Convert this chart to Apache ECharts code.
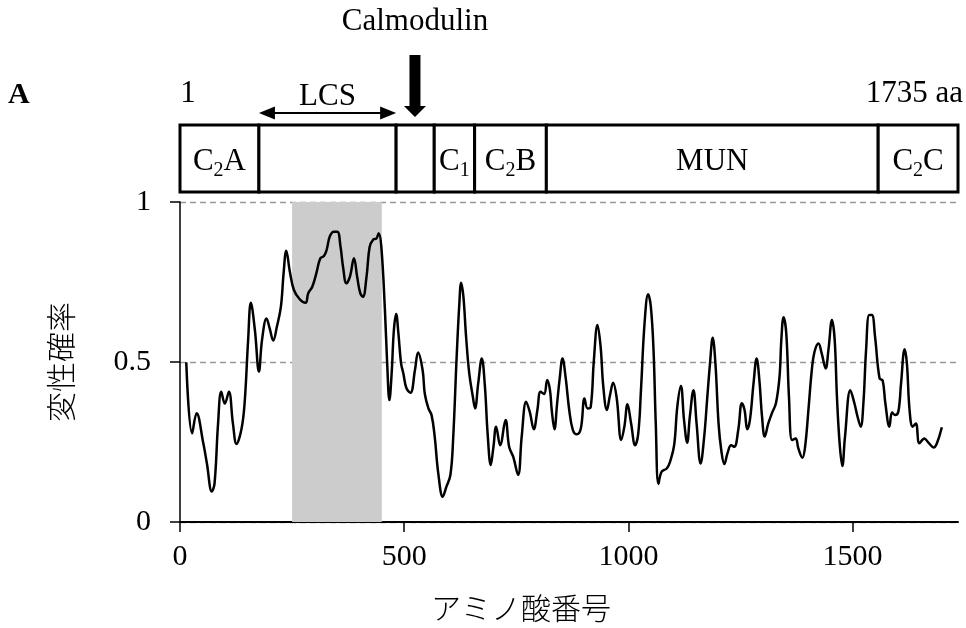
<!DOCTYPE html>
<html>
<head>
<meta charset="utf-8">
<script src="https://cdn.jsdelivr.net/npm/echarts@6/dist/echarts.min.js"></script>
<style>
  html, body { margin: 0; padding: 0; background: #fff; }
  #chart { width: 966px; height: 628px; }
</style>
</head>
<body>
<div id="chart"></div>
<script>
// Disorder probability along the protein sequence (residue number -> probability)
const residue = [
  14, 27, 37, 52, 60, 71, 77, 85, 92, 100, 109, 118, 126, 137, 144, 152, 158, 167, 176, 183,
  193, 200, 208, 216, 225, 231, 237, 245, 254, 267, 280, 286, 295, 304, 313, 321, 327, 334, 343, 351,
  358, 364, 371, 379, 388, 395, 402, 408, 416, 423, 431, 438, 443, 449, 457, 462, 467, 472, 477, 482,
  487, 493, 498, 505, 514, 524, 531, 541, 546, 554, 561, 568, 576, 586, 594, 603, 609, 617, 623, 627,
  632, 638, 645, 653, 658, 665, 673, 680, 686, 693, 699, 705, 714, 726, 734, 743, 754, 762, 772, 780,
  789, 797, 804, 812, 819, 825, 829, 835, 841, 847, 853, 860, 868, 876, 885, 894, 902, 909, 916, 923,
  931, 938, 944, 952, 959, 966, 974, 984, 991, 998, 1006, 1015, 1022, 1028, 1036, 1044, 1050, 1056, 1061, 1067,
  1074, 1086, 1093, 1102, 1109, 1117, 1124, 1131, 1137, 1145, 1152, 1161, 1169, 1176, 1182, 1188, 1194, 1201, 1207, 1214,
  1221, 1229, 1236, 1245, 1253, 1259, 1265, 1271, 1279, 1286, 1292, 1298, 1304, 1312, 1320, 1329, 1337, 1341, 1346, 1352,
  1358, 1365, 1373, 1379, 1388, 1394, 1402, 1409, 1415, 1424, 1431, 1440, 1446, 1454, 1460, 1465, 1471, 1477, 1483, 1495,
  1504, 1511, 1518, 1524, 1530, 1537, 1543, 1550, 1560, 1567, 1573, 1582, 1588, 1595, 1602, 1608, 1616, 1621, 1627, 1634,
  1641, 1649, 1660, 1669, 1681, 1688, 1699
];
const disorder = [
  0.499, 0.277, 0.340, 0.246, 0.183, 0.095, 0.120, 0.310, 0.407, 0.370, 0.407, 0.308, 0.244, 0.290, 0.370, 0.570, 0.685, 0.600, 0.470, 0.570,
  0.636, 0.605, 0.567, 0.610, 0.673, 0.777, 0.848, 0.782, 0.725, 0.696, 0.685, 0.715, 0.735, 0.777, 0.824, 0.831, 0.850, 0.892, 0.907, 0.907,
  0.860, 0.793, 0.746, 0.767, 0.824, 0.767, 0.715, 0.704, 0.767, 0.860, 0.883, 0.886, 0.902, 0.860, 0.662, 0.496, 0.381, 0.465, 0.600, 0.650,
  0.590, 0.496, 0.465, 0.418, 0.404, 0.475, 0.530, 0.475, 0.400, 0.355, 0.334, 0.267, 0.152, 0.079, 0.110, 0.147, 0.256, 0.517, 0.683, 0.748,
  0.704, 0.579, 0.465, 0.392, 0.355, 0.433, 0.511, 0.423, 0.277, 0.178, 0.235, 0.298, 0.240, 0.319, 0.235, 0.204, 0.147, 0.267, 0.376, 0.344,
  0.290, 0.350, 0.407, 0.400, 0.444, 0.413, 0.350, 0.290, 0.371, 0.452, 0.511, 0.452, 0.350, 0.288, 0.274, 0.293, 0.386, 0.355, 0.360, 0.506,
  0.616, 0.548, 0.423, 0.350, 0.397, 0.435, 0.386, 0.256, 0.298, 0.368, 0.308, 0.240, 0.277, 0.412, 0.621, 0.712, 0.673, 0.537, 0.308, 0.119,
  0.157, 0.168, 0.189, 0.240, 0.360, 0.425, 0.319, 0.248, 0.329, 0.412, 0.308, 0.183, 0.267, 0.392, 0.496, 0.576, 0.496, 0.308, 0.225, 0.181,
  0.215, 0.240, 0.235, 0.288, 0.371, 0.350, 0.290, 0.319, 0.433, 0.511, 0.444, 0.329, 0.267, 0.308, 0.340, 0.371, 0.454, 0.569, 0.640, 0.590,
  0.392, 0.256, 0.261, 0.230, 0.201, 0.235, 0.360, 0.475, 0.532, 0.558, 0.527, 0.480, 0.537, 0.631, 0.569, 0.392, 0.246, 0.175, 0.267, 0.412,
  0.371, 0.329, 0.298, 0.371, 0.537, 0.647, 0.647, 0.579, 0.449, 0.442, 0.371, 0.298, 0.342, 0.334, 0.345, 0.433, 0.540, 0.496, 0.350, 0.298,
  0.308, 0.246, 0.261, 0.248, 0.233, 0.246, 0.296
];

// Axis ticks
const xTickStep = 500;
const yTickStep = 0.5;
const proteinLength = 1735;

// Domain architecture of the protein
const domainStart = [0, 176, 482, 567, 657, 817, 1557];
const domainEnd   = [176, 482, 567, 657, 817, 1557, 1735];
const domainNames = ['C2A', '', '', 'C1', 'C2B', 'MUN', 'C2C'];

// Annotated regions
const lcsRange = [176, 482];
const shadedRange = [250, 450];
const calmodulinSite = 524;

const SERIF = "'Liberation Serif', 'Times New Roman', serif";
const CJK = "'Noto Sans CJK JP', sans-serif";

// "C2A" -> C with subscript 2, then A
function richName(s) {
  const m = /^C(\d)(.*)$/.exec(s);
  if (!m) return s ? '{n|' + s + '}' : '';
  return '{n|C}{s|' + m[1] + '}' + (m[2] ? '{n|' + m[2] + '}' : '');
}
const domainRich = {
  n: { fontFamily: SERIF, fontSize: 31, lineHeight: 38, verticalAlign: 'middle', fill: '#000' },
  s: { fontFamily: SERIF, fontSize: 20, lineHeight: 20, verticalAlign: 'bottom', fill: '#000' }
};

const chart = echarts.init(document.getElementById('chart'), null, { renderer: 'canvas' });

const option = {
  animation: false,
  backgroundColor: '#fff',
  grid: [
    { left: 180, right: 8, top: 202, bottom: 106, containLabel: false },
    { left: 180, right: 8, top: 125, bottom: 436, containLabel: false }
  ],
  xAxis: [
    {
      type: 'value', gridIndex: 0, min: 0, max: proteinLength, interval: xTickStep,
      axisLine: { show: true, lineStyle: { color: '#000', width: 2 } },
      axisTick: { show: true, inside: false, length: 10, lineStyle: { color: '#000', width: 1.5 } },
      axisLabel: { color: '#000', fontFamily: SERIF, fontSize: 30, margin: 20, showMaxLabel: false, formatter: v => String(v) },
      splitLine: { show: false }
    },
    { type: 'value', gridIndex: 1, min: 0, max: proteinLength, show: false }
  ],
  yAxis: [
    {
      type: 'value', gridIndex: 0, min: 0, max: 1, interval: yTickStep,
      name: '変性確率', nameLocation: 'middle', nameGap: 104, nameRotate: 90,
      nameTextStyle: { color: '#000', fontFamily: CJK, fontSize: 30, fontWeight: 300 },
      axisLine: { show: true, lineStyle: { color: '#000', width: 1.5 } },
      axisTick: { show: true, inside: false, length: 10, lineStyle: { color: '#000', width: 1.5 } },
      axisLabel: { color: '#000', fontFamily: SERIF, fontSize: 30, margin: 29, formatter: v => String(v) },
      splitLine: { show: true, lineStyle: { color: '#999', width: 1.3, type: [6, 4] } }
    },
    { type: 'value', gridIndex: 1, min: 0, max: 1, show: false }
  ],
  graphic: [
    { type: 'text', left: 8, top: 80, style: { text: 'A', font: 'bold 30px ' + SERIF, fill: '#000' } },
    { type: 'text', x: 521, y: 608, style: { text: 'アミノ酸番号', fontFamily: CJK, fontSize: 30, fontWeight: 300, fill: '#000', align: 'center', verticalAlign: 'middle' } }
  ],
  series: [
    {
      type: 'line',
      xAxisIndex: 0, yAxisIndex: 0,
      data: residue.map((r, i) => [r, disorder[i]]),
      showSymbol: false,
      smooth: 0.4,
      lineStyle: { color: '#000', width: 2.5 },
      z: 5,
      markArea: {
        silent: true,
        itemStyle: { color: '#cccccc' },
        data: [[{ xAxis: shadedRange[0], yAxis: 0 }, { xAxis: shadedRange[1], yAxis: 1 }]]
      }
    },
    {
      // domain boxes
      type: 'custom',
      xAxisIndex: 1, yAxisIndex: 1,
      clip: false,
      data: domainStart.map((s, i) => [s, domainEnd[i], i]),
      renderItem: function (params, api) {
        const i = api.value(2);
        const a = api.coord([api.value(0), 1]);
        const b = api.coord([api.value(1), 0]);
        const children = [{
          type: 'rect',
          shape: { x: a[0], y: a[1], width: b[0] - a[0], height: b[1] - a[1] },
          style: { fill: '#fff', stroke: '#000', lineWidth: 3 }
        }];
        const label = richName(domainNames[i]);
        if (label) {
          children.push({
            type: 'text',
            x: (a[0] + b[0]) / 2, y: (a[1] + b[1]) / 2 + 3,
            style: { text: label, rich: domainRich, align: 'center', verticalAlign: 'middle', fontFamily: SERIF, fontSize: 31, fill: '#000' },
            z2: 10
          });
        }
        return { type: 'group', children: children };
      }
    },
    {
      // LCS span, calmodulin site and sequence end labels
      type: 'custom',
      xAxisIndex: 1, yAxisIndex: 1,
      clip: false,
      data: [[0]],
      renderItem: function (params, api) {
        const top = api.coord([0, 1])[1];
        const x0 = api.coord([0, 1])[0];
        const xEnd = api.coord([proteinLength, 1])[0];
        const xl = api.coord([lcsRange[0], 1])[0];
        const xr = api.coord([lcsRange[1], 1])[0];
        const xc = api.coord([calmodulinSite, 1])[0];
        const ya = top - 12;
        const txt = (text, x, y, align) => ({
          type: 'text', x: x, y: y,
          style: { text: text, fontFamily: SERIF, fontSize: 31, fill: '#000', align: align || 'center', verticalAlign: 'middle' }
        });
        return {
          type: 'group',
          children: [
            { type: 'line', shape: { x1: xl + 10, y1: ya, x2: xr - 10, y2: ya }, style: { stroke: '#000', lineWidth: 2 } },
            { type: 'polygon', shape: { points: [[xl, ya], [xl + 16, ya - 6.5], [xl + 16, ya + 6.5]] }, style: { fill: '#000' } },
            { type: 'polygon', shape: { points: [[xr, ya], [xr - 16, ya - 6.5], [xr - 16, ya + 6.5]] }, style: { fill: '#000' } },
            txt('LCS', (xl + xr) / 2, top - 28),
            { type: 'rect', shape: { x: xc - 5.5, y: top - 70, width: 11, height: 52 }, style: { fill: '#000' } },
            { type: 'polygon', shape: { points: [[xc - 11, top - 19], [xc + 11, top - 19], [xc, top - 8]] }, style: { fill: '#000' } },
            txt('Calmodulin', xc, top - 103),
            txt('1', x0 + 8, top - 31),
            txt('1735 aa', xEnd + 5, top - 31, 'right')
          ]
        };
      }
    }
  ]
};

chart.setOption(option);
</script>
</body>
</html>
